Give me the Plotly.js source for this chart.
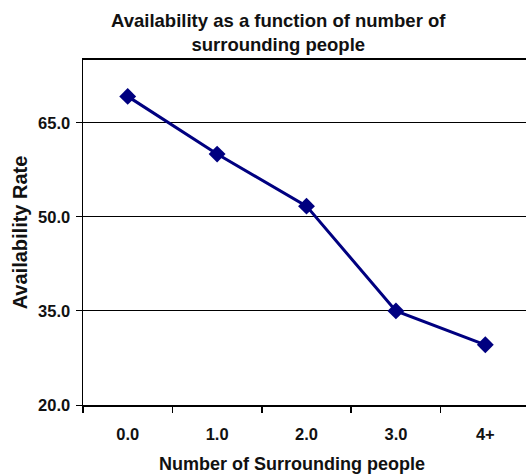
<!DOCTYPE html>
<html>
<head>
<meta charset="utf-8">
<script src="https://cdn.plot.ly/plotly-3.0.1.min.js"></script>
<style>
html,body{margin:0;padding:0;background:#fff;}
#chart{width:526px;height:476px;}
</style>
</head>
<body>
<div id="chart"></div>
<script>
var categories = ["0.0", "1.0", "2.0", "3.0", "4+"];
var availability = [69.2, 60.0, 51.7, 35.0, 29.6];
var yTicks = [20, 35, 50, 65];

var FONT = "Liberation Sans, Arial, sans-serif";

var trace = {
  type: "scatter",
  mode: "lines+markers",
  x: categories,
  y: availability,
  line: {color: "#000080", width: 3},
  marker: {symbol: "diamond", size: 13, color: "#000080"},
  cliponaxis: false,
  hoverinfo: "x+y"
};

var layout = {
  width: 526,
  height: 476,
  margin: {l: 83, r: 0, t: 60, b: 71},
  paper_bgcolor: "#ffffff",
  plot_bgcolor: "#ffffff",
  showlegend: false,
  font: {family: FONT, color: "#000000"},
  title: {
    text: "Availability as a function of number of<br>surrounding people",
    font: {family: FONT, size: 18.5, weight: "bold", color: "#111"},
    x: 0.529, xanchor: "center",
    y: 0.944, yanchor: "middle", yref: "container"
  },
  xaxis: {
    type: "category",
    range: [-0.5, 4.455],
    tickson: "boundaries",
    ticks: "outside",
    ticklen: 6,
    tickwidth: 1.5,
    tickcolor: "#000",
    showline: true,
    linecolor: "#000",
    linewidth: 2,
    mirror: true,
    showgrid: false,
    ticklabelstandoff: 13,
    tickfont: {family: FONT, size: 16.5, weight: "bold", color: "#111"}
  },
  yaxis: {
    range: [20, 75],
    tickvals: yTicks,
    tickformat: ".1f",
    ticks: "outside",
    ticklen: 6,
    tickwidth: 1,
    tickcolor: "#000",
    showline: true,
    linecolor: "#000",
    linewidth: 1.5,
    showgrid: true,
    gridcolor: "#000",
    gridwidth: 1,
    zeroline: false,
    ticklabelstandoff: 2,
    tickfont: {family: FONT, size: 16.5, weight: "bold", color: "#111"},
    title: {
      text: "Availability Rate",
      font: {family: FONT, size: 20, weight: "bold", color: "#111"},
      standoff: 5
    }
  },
  annotations: [{
    text: "Number of Surrounding people",
    xref: "paper", yref: "paper",
    x: (292 - 83) / 443, xanchor: "center",
    y: -(464 - 405) / 345, yanchor: "middle",
    showarrow: false,
    font: {family: FONT, size: 18, weight: "bold", color: "#111"}
  }]
};

Plotly.newPlot("chart", [trace], layout, {displayModeBar: false, staticPlot: true});
</script>
</body>
</html>
